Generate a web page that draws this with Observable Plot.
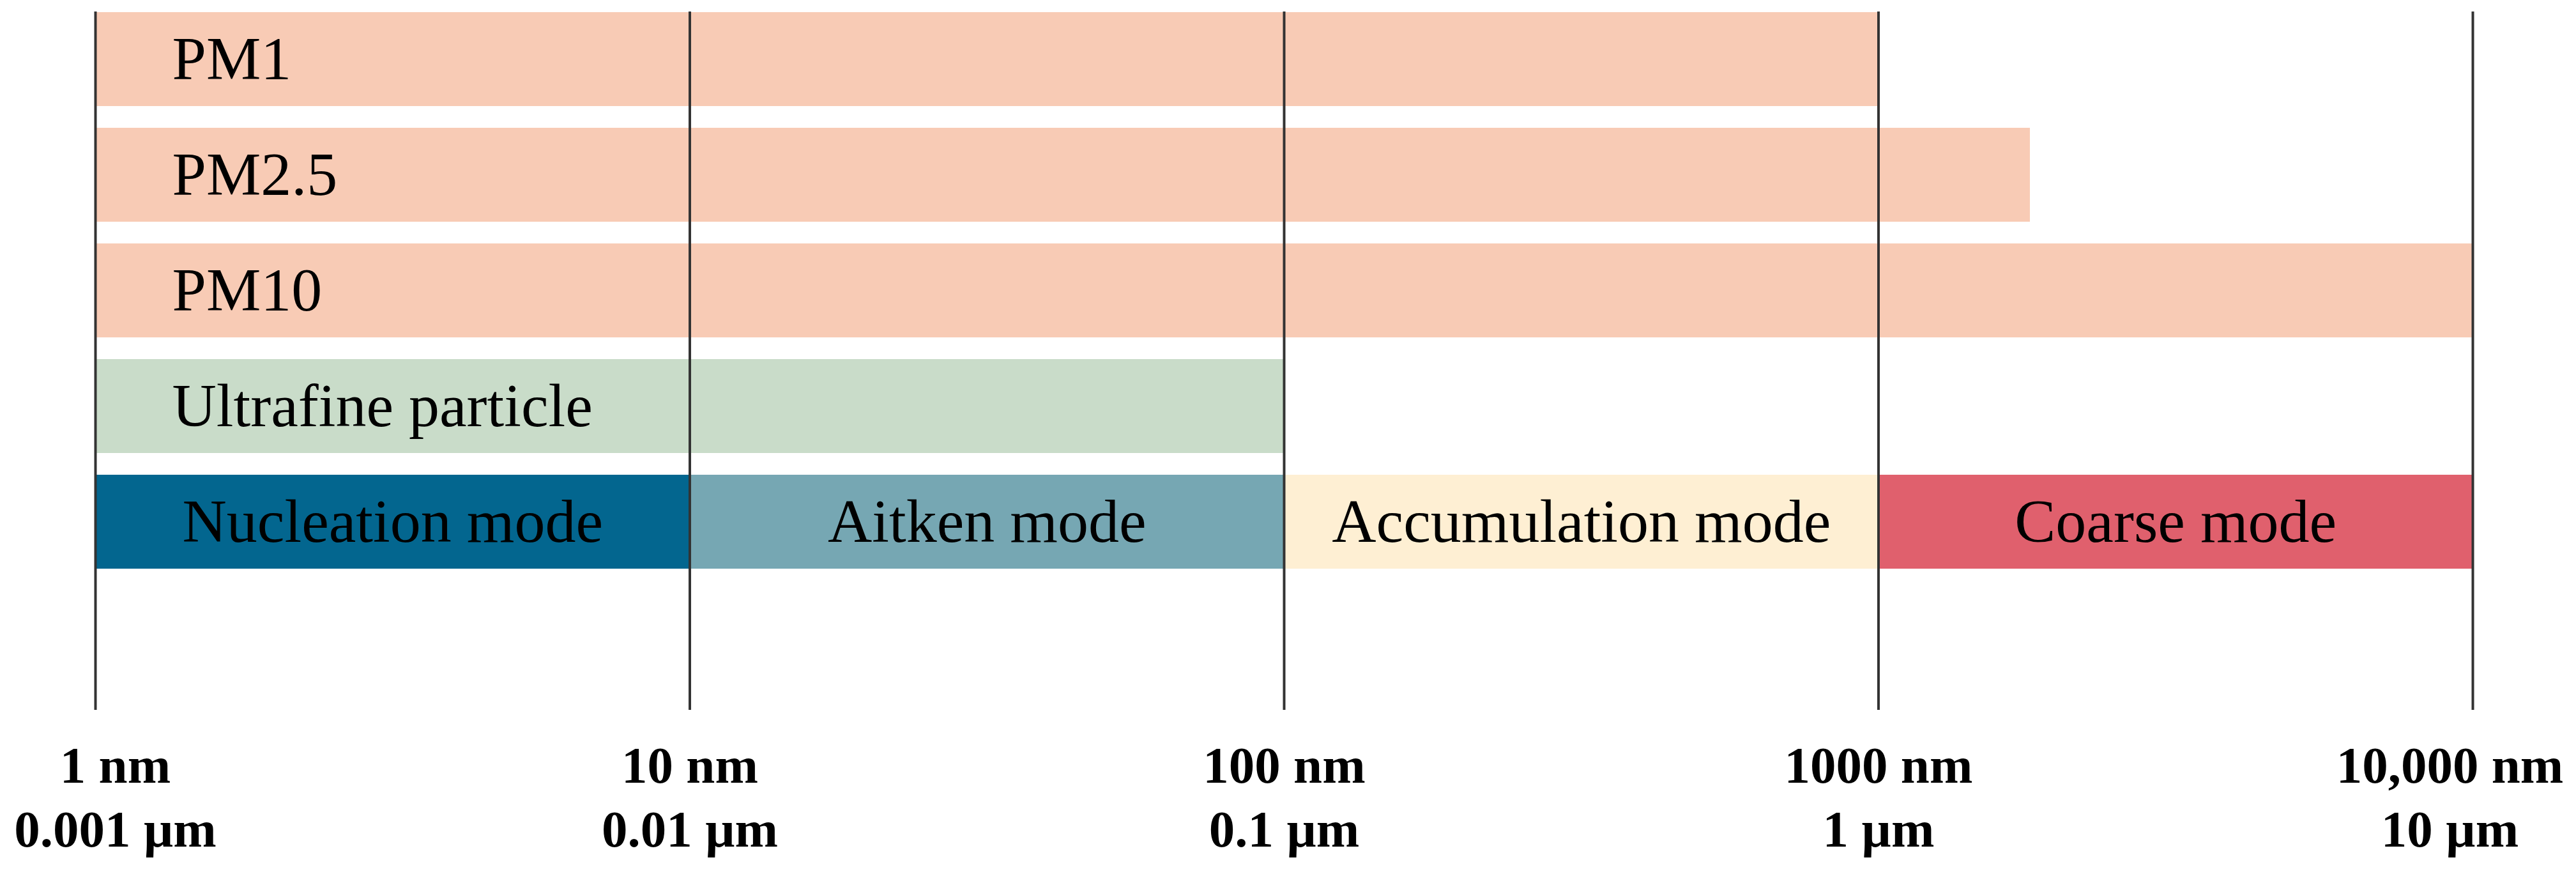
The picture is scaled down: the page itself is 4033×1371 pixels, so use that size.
<!DOCTYPE html>
<html>
<head>
<meta charset="utf-8">
<script src="https://cdn.jsdelivr.net/npm/d3@7"></script>
<script src="https://cdn.jsdelivr.net/npm/@observablehq/plot@0.6"></script>
<style>
  html, body { margin: 0; padding: 0; background: #ffffff; }
  #chart svg { display: block; background: #ffffff; }
</style>
</head>
<body>
<div id="chart"></div>
<script>
// Size classes (diameter range in nm)
const classNames = ["PM1", "PM2.5", "PM10", "Ultrafine particle"];
const classLower = [1, 1, 1, 1];
const classUpper = [1000, 1800, 10000, 100];
const classColors = ["#F8CBB5", "#F8CBB5", "#F8CBB5", "#C9DCC9"];

// Aerosol modes (diameter range in nm)
const modeNames = ["Nucleation mode", "Aitken mode", "Accumulation mode", "Coarse mode"];
const modeLower = [1, 10, 100, 1000];
const modeUpper = [10, 100, 1000, 10000];
const modeColors = ["#03668F", "#76A7B3", "#FEEFD3", "#E0606D"];
const modeRow = "Modes";

// Axis ticks
const tickValues = [1, 10, 100, 1000, 10000];
const tickLabelsNm = ["1 nm", "10 nm", "100 nm", "1000 nm", "10,000 nm"];
const tickLabelsUm = ["0.001 µm", "0.01 µm", "0.1 µm", "1 µm", "10 µm"];

const rows = [...classNames, modeRow];

const classData = classNames.map((name, i) => ({
  name, lo: classLower[i], hi: classUpper[i], color: classColors[i]
}));
const modeData = modeNames.map((name, i) => ({
  name, lo: modeLower[i], hi: modeUpper[i], color: modeColors[i], row: modeRow
}));
const tickData = tickValues.map((v, i) => ({
  v, label: tickLabelsNm[i] + "\n" + tickLabelsUm[i], i
}));

const font = "'Liberation Serif', 'Times New Roman', Times, serif";
const tickText = {
  x: "v", text: "label", frameAnchor: "bottom", lineAnchor: "top",
  lineHeight: 1.23, dy: 263, fontSize: 81, fontWeight: "bold",
  fontFamily: font, fill: "#000", textAnchor: "middle"
};

const chart = Plot.plot({
  width: 4033,
  height: 1371,
  marginLeft: 149,
  marginRight: 162,
  marginTop: 18,
  marginBottom: 480,
  style: { background: "#ffffff", fontFamily: font },
  x: { type: "log", domain: [1, 10000], axis: null },
  y: { type: "band", domain: rows, paddingInner: 0.19, paddingOuter: 0, axis: null },
  marks: [
    Plot.barX(classData, { x1: "lo", x2: "hi", y: "name", fill: "color" }),
    Plot.barX(modeData, { x1: "lo", x2: "hi", y: "row", fill: "color" }),
    Plot.ruleX(tickValues, { x: d => d, stroke: "#333333", strokeWidth: 4, insetBottom: -220 }),
    Plot.text(classData, {
      x: "lo", y: "name", text: "name", textAnchor: "start", dx: 120,
      fontSize: 96, fontFamily: font, fill: "#000"
    }),
    Plot.text(modeData, {
      x: d => Math.sqrt(d.lo * d.hi), y: "row", text: "name", textAnchor: "middle",
      fontSize: 96, fontFamily: font, fill: "#000"
    }),
    Plot.text(tickData.filter(d => d.i === 0), { ...tickText, dx: 31 }),
    Plot.text(tickData.filter(d => d.i > 0 && d.i < tickData.length - 1), { ...tickText }),
    Plot.text(tickData.filter(d => d.i === tickData.length - 1), { ...tickText, dx: -36 })
  ]
});

document.getElementById("chart").appendChild(chart);
</script>
</body>
</html>
